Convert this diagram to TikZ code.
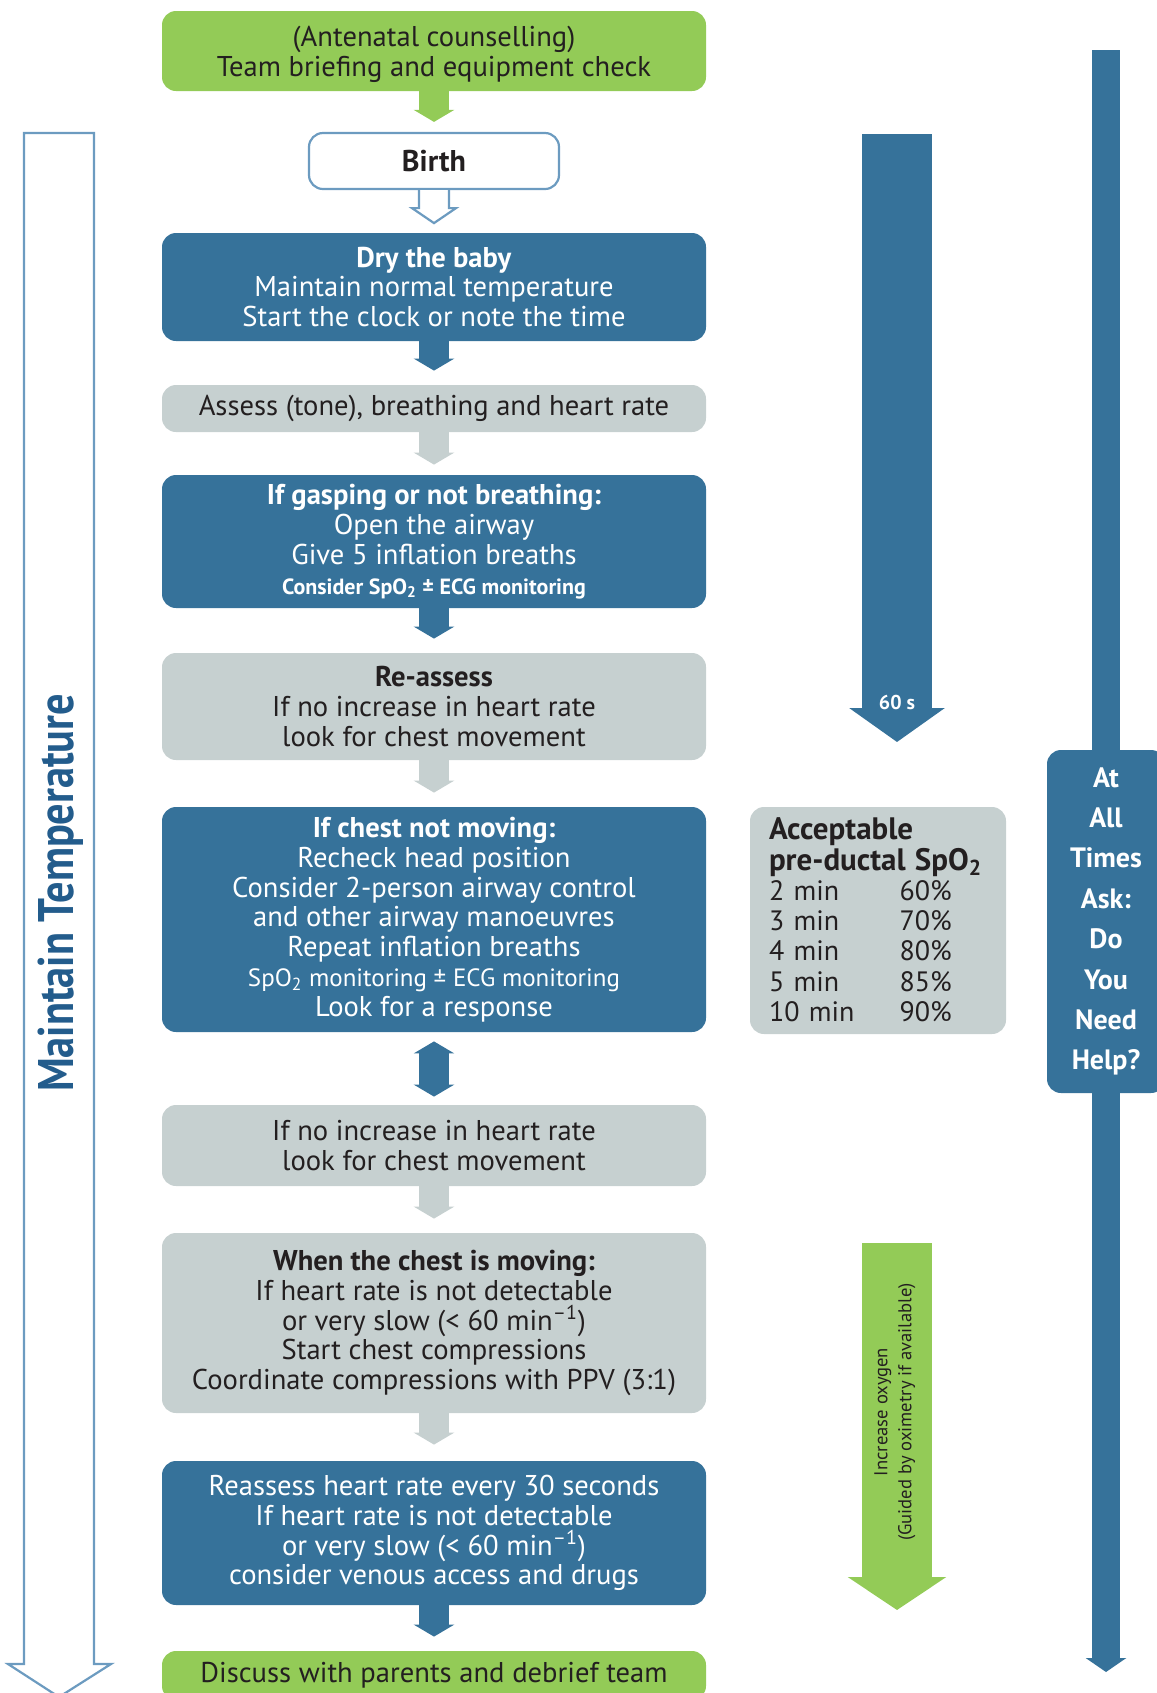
\documentclass[tikz,border=0pt]{standalone}
\usepackage{fontspec}
\setmainfont{PT Sans}
\usetikzlibrary{arrows.meta}
\definecolor{nlsblue}{HTML}{36729A}
\definecolor{nlsgrey}{HTML}{C6D0D0}
\definecolor{nlsgreen}{HTML}{93CB57}
\definecolor{nlsline}{HTML}{6C9BC0}
\definecolor{nlstext}{HTML}{231F20}
\definecolor{nlsdark}{HTML}{235C8C}
\tikzset{
  box/.style={rounded corners=7pt, minimum width=272pt, inner sep=0pt, align=center,
    font=\fontsize{14.3}{14.9}\selectfont},
  bluebox/.style={box, fill=nlsblue, text=white},
  greybox/.style={box, fill=nlsgrey, text=nlstext},
  greenbox/.style={box, fill=nlsgreen, text=nlstext},
  flow/.style={line width=15pt, shorten >=7pt, -{Triangle[width=20pt,length=6pt]}},
  hollow/.style={draw=nlsline, fill=white, line width=1.1pt, line join=miter},
}
\newcommand{\nudgedown}[1]{\raisebox{-1.6pt}[\height][\depth]{#1}}
\begin{document}
\begin{tikzpicture}[x=0.5pt,y=-0.5pt]
\useasboundingbox (0,0) rectangle (1157,1693);

% maintain temperature arrow
\draw[hollow] (24,133) -- (24,1664) -- (8,1664) -- (59,1697) -- (111,1664) -- (94,1664) -- (94,133) -- cycle;
\node[rotate=90, inner sep=0pt, text=nlsdark, font=\bfseries\fontsize{25}{25}\selectfont] (warmtxt) at (61,893)
  {\scalebox{0.845}[1]{Maintain Temperature}};

% time arrows on the right
\coordinate (clocktop) at (897,134);
\coordinate (clockend) at (897,742);
\draw[nlsblue, line width=35pt, -{Triangle[width=47pt,length=17pt]}] (clocktop) -- (clockend);
\node[text=white, font=\bfseries\fontsize{10}{11}\selectfont] (sixty) at (897,702) {60 s};

\coordinate (o2top) at (897,1243);
\coordinate (o2end) at (897,1610);
\draw[nlsgreen, line width=35pt, -{Triangle[width=48.5pt,length=16.5pt]}] (o2top) -- (o2end);
\node[rotate=90, align=center, text=nlstext, font=\fontsize{9.3}{12}\selectfont] (o2txt) at (895,1412)
  {Increase oxygen\\(Guided by oximetry if available)};

\coordinate (helptop) at (1106,50);
\coordinate (helpend) at (1106,1672);
\draw[nlsblue, line width=14pt, -{Triangle[width=20pt,length=7pt]}] (helptop) -- (helpend);
\node[rounded corners=7pt, fill=nlsblue, minimum width=59pt, minimum height=171.5pt, inner sep=0pt,
  align=center, text=white, font=\bfseries\fontsize{14}{20.2}\selectfont] (askhelp) at (1106,921.5)
  {At\\All\\Times\\Ask:\\Do\\You\\Need\\Help?};

\node[rounded corners=7pt, fill=nlsgrey, text=nlstext, minimum width=128pt, minimum height=113.5pt,
  inner xsep=9.5pt, inner ysep=0pt, text width=109pt, align=left, font=\fontsize{14}{15.1}\selectfont] (spotab) at (878,920.5)
  {\nudgedown{\begin{tabular}{@{}p{65.3pt}@{}l@{}}
   \multicolumn{2}{@{}l@{}}{\bfseries\fontsize{15.5}{15.1}\selectfont Acceptable}\\
   \multicolumn{2}{@{}l@{}}{\bfseries\fontsize{15.5}{15.1}\selectfont pre-ductal SpO\textsubscript{2}}\\
   2 min & 60\%\\
   3 min & 70\%\\
   4 min & 80\%\\
   5 min & 85\%\\
   10 min & 90\%
   \end{tabular}}};

% main flow
\node[greenbox, minimum height=40pt] (brief) at (434,51) {\nudgedown{(Antenatal counselling)}\\\nudgedown{Team briefing and equipment check}};
\node[box, draw=nlsline, line width=1.1pt, fill=white, text=nlstext, minimum width=125pt, minimum height=28pt,
  font=\bfseries\fontsize{15}{15}\selectfont] (birth) at (434,161) {Birth};
\node[bluebox, minimum height=54pt] (dry) at (434,287) {\textbf{Dry the baby}\\Maintain normal temperature\\Start the clock or note the time};
\node[greybox, minimum height=23.5pt] (assess) at (434,408.5) {Assess (tone), breathing and heart rate};
\node[bluebox, minimum height=66.5pt] (gasp) at (434,541.5) {\textbf{If gasping or not breathing:}\\Open the airway\\Give 5 inflation breaths\\
  {\fontsize{11}{12}\selectfont\bfseries Consider SpO\textsubscript{2} ± ECG monitoring}};
\node[greybox, minimum height=53.5pt] (reassess) at (434,706.5) {\textbf{Re-assess}\\If no increase in heart rate\\look for chest movement};
\node[bluebox, minimum height=112.5pt] (chest) at (434,919.5) {\textbf{If chest not moving:}\\Recheck head position\\
  Consider 2-person airway control\\and other airway manoeuvres\\Repeat inflation breaths\\
  {\fontsize{12.5}{12}\selectfont SpO\textsubscript{2} monitoring ± ECG monitoring}\\Look for a response};
\node[greybox, minimum height=40.5pt] (noinc) at (434,1145.5) {If no increase in heart rate\\look for chest movement};
\node[greybox, minimum height=90pt] (moving) at (434,1323) {\textbf{When the chest is moving:}\\If heart rate is not detectable\\
  or very slow (< 60 min\textsuperscript{–1})\\Start chest compressions\\Coordinate compressions with PPV (3:1)};
\node[bluebox, minimum height=72pt] (hrcheck) at (434,1533) {Reassess heart rate every 30 seconds\\If heart rate is not detectable\\
  or very slow (< 60 min\textsuperscript{–1})\\consider venous access and drugs};
\node[greenbox, minimum height=24.5pt] (debrief) at (434,1675.5) {Discuss with parents and debrief team};

\draw[flow, nlsgreen, shorten >=5pt] (brief) -- (birth);
\draw[hollow] (birth.south) ++(-15,0) -- ++(0,18) -- ++(-7,0) -- ++(22,15) -- ++(22,-15) -- ++(-7,0) -- ++(0,-18);
\draw[flow, nlsblue] (dry) -- (assess);
\draw[flow, nlsgrey, shorten >=5pt] (assess) -- (gasp);
\draw[flow, nlsblue] (gasp) -- (reassess);
\draw[flow, nlsgrey] (reassess) -- (chest);
\draw[nlsblue, line width=15pt, shorten <=4.5pt, shorten >=4pt,
  {Triangle[width=20pt,length=6pt]}-{Triangle[width=20pt,length=6pt]}] (chest) -- (noinc);
\draw[flow, nlsgrey] (noinc) -- (moving);
\draw[flow, nlsgrey, shorten >=8pt] (moving) -- (hrcheck);
\draw[flow, nlsblue] (hrcheck) -- (debrief);
\end{tikzpicture}
\end{document}
